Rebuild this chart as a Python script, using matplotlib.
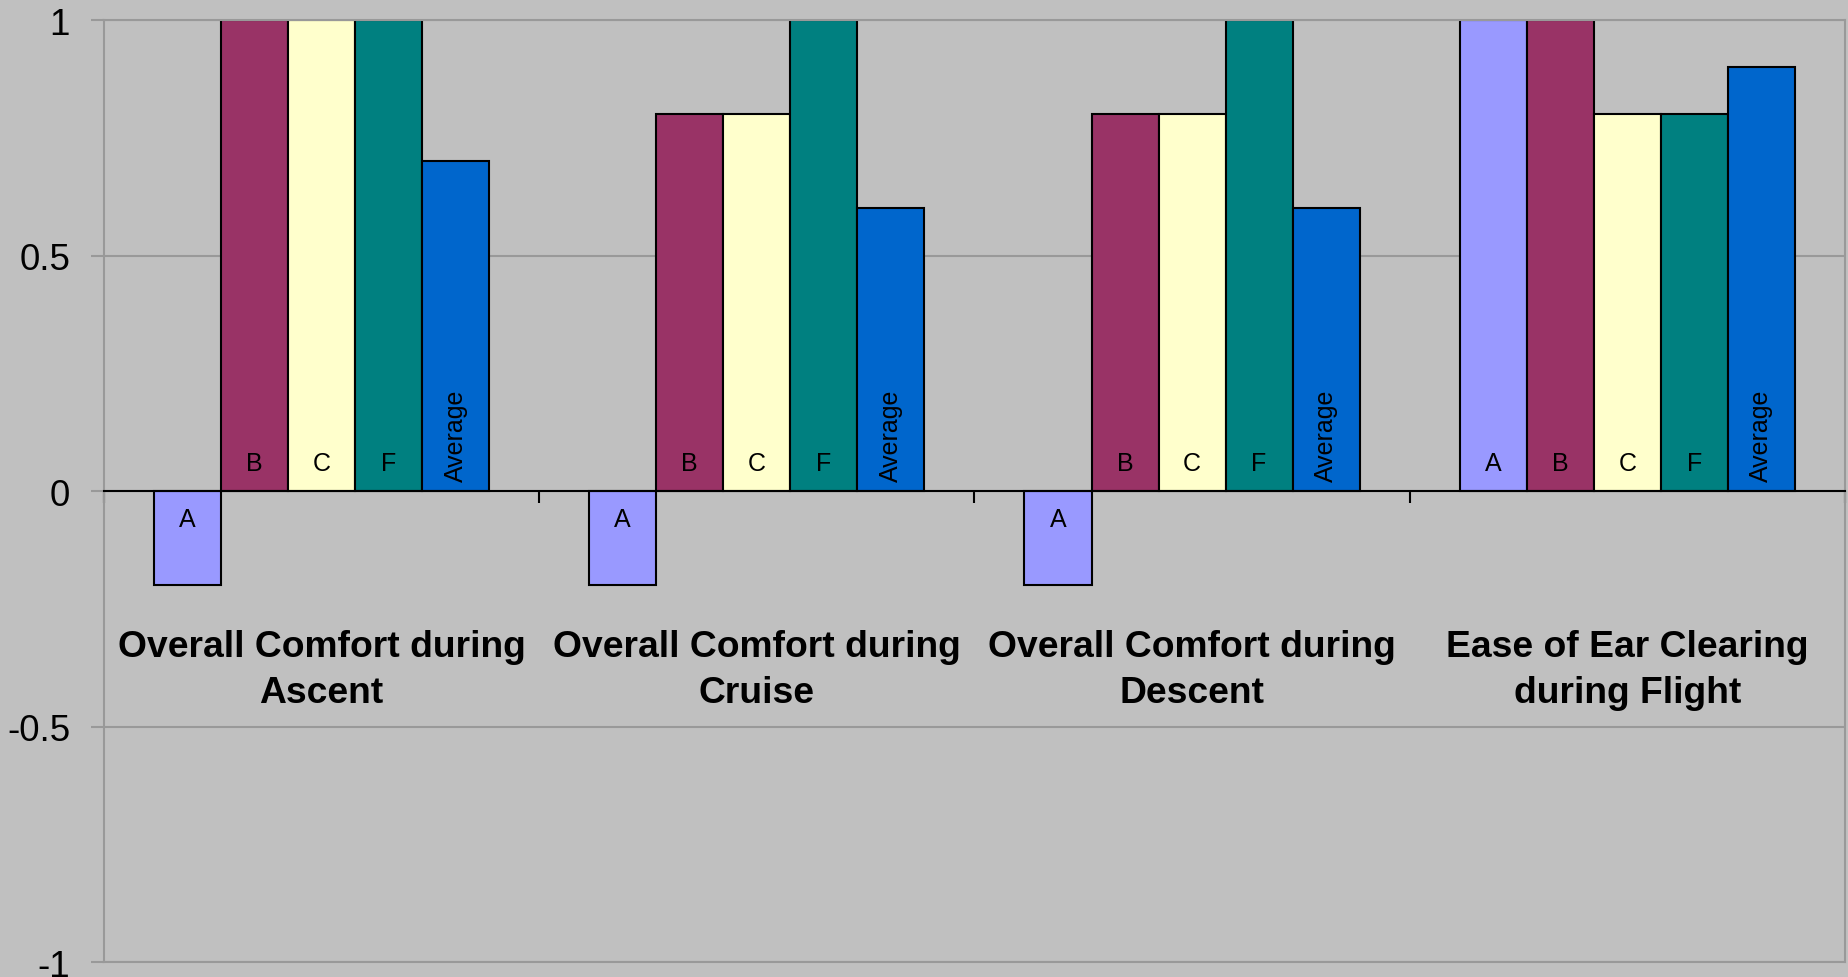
import matplotlib.pyplot as plt
import numpy as np

plt.rcParams['font.family'] = ['Liberation Sans', 'DejaVu Sans']
plt.rcParams['axes.unicode_minus'] = False

# categories and series
categories = [
    "Overall Comfort during\nAscent",
    "Overall Comfort during\nCruise",
    "Overall Comfort during\nDescent",
    "Ease of Ear Clearing\nduring Flight",
]
series_names = ["A", "B", "C", "F", "Average"]
vals_a = [-0.2, -0.2, -0.2, 1.0]
vals_b = [1.0, 0.8, 0.8, 1.0]
vals_c = [1.0, 0.8, 0.8, 0.8]
vals_f = [1.0, 1.0, 1.0, 0.8]
vals_avg = [0.7, 0.6, 0.6, 0.9]
series_vals = [vals_a, vals_b, vals_c, vals_f, vals_avg]
colors = ["#9999FF", "#993366", "#FFFFCC", "#008080", "#0066CC"]

bg = "#C0C0C0"
grid_col = "#999999"

fig = plt.figure(figsize=(18.49, 9.78), dpi=100, facecolor=bg)
ax = fig.add_axes([0.0562, 0.0153, 0.9416, 0.9632])
ax.set_facecolor(bg)

n = len(series_names)
w = 0.154
centers = np.arange(len(categories)) + 0.5

for i, (name, vals, col) in enumerate(zip(series_names, series_vals, colors)):
    xs = centers + (i - (n - 1) / 2) * w
    ax.bar(xs, vals, width=w, color=col, edgecolor="black", linewidth=1.5, zorder=2)
    for x, v in zip(xs, vals):
        if name == "Average":
            ax.annotate(name, (x, 0), xytext=(0, 7.5), textcoords="offset points",
                        ha="center", va="bottom", rotation=90, fontsize=18, zorder=4)
        elif v >= 0:
            ax.annotate(name, (x, 0), xytext=(0, 15), textcoords="offset points",
                        ha="center", va="baseline", fontsize=18, zorder=4)
        else:
            ax.annotate(name, (x, 0), xytext=(0, -25.5), textcoords="offset points",
                        ha="center", va="baseline", fontsize=18, zorder=4)

# category labels under the zero line
for c, lab in zip(centers, categories):
    ax.text(c, -0.292, lab, ha="center", va="top", fontsize=26.8,
            fontweight="bold", linespacing=1.42)

ax.set_xlim(0, len(categories))
ax.set_ylim(-1, 1)
ax.set_yticks([-1, -0.5, 0, 0.5, 1])
ax.set_yticklabels(["-1", "-0.5", "0", "0.5", "1"])
ax.yaxis.grid(True, color=grid_col, linewidth=1.5, zorder=0)
ax.set_axisbelow(True)
ax.tick_params(axis="y", length=9.4, width=1.5, color=grid_col, pad=15, labelsize=26.5)

# zero axis with category separators
ax.spines["bottom"].set_position(("data", 0))
ax.spines["bottom"].set_color("black")
ax.spines["bottom"].set_linewidth(1.5)
ax.spines["bottom"].set_zorder(3)
ax.set_xticks(np.arange(len(categories) + 1))
ax.set_xticklabels([])
ax.tick_params(axis="x", direction="out", length=8.5, width=1.5, color="black")

for s in ["left", "right", "top"]:
    ax.spines[s].set_color(grid_col)
    ax.spines[s].set_linewidth(1.5)
ax.axhline(-1, color=grid_col, linewidth=1.5, clip_on=False, zorder=1)

fig.savefig("out.png", dpi=100, facecolor=bg)
